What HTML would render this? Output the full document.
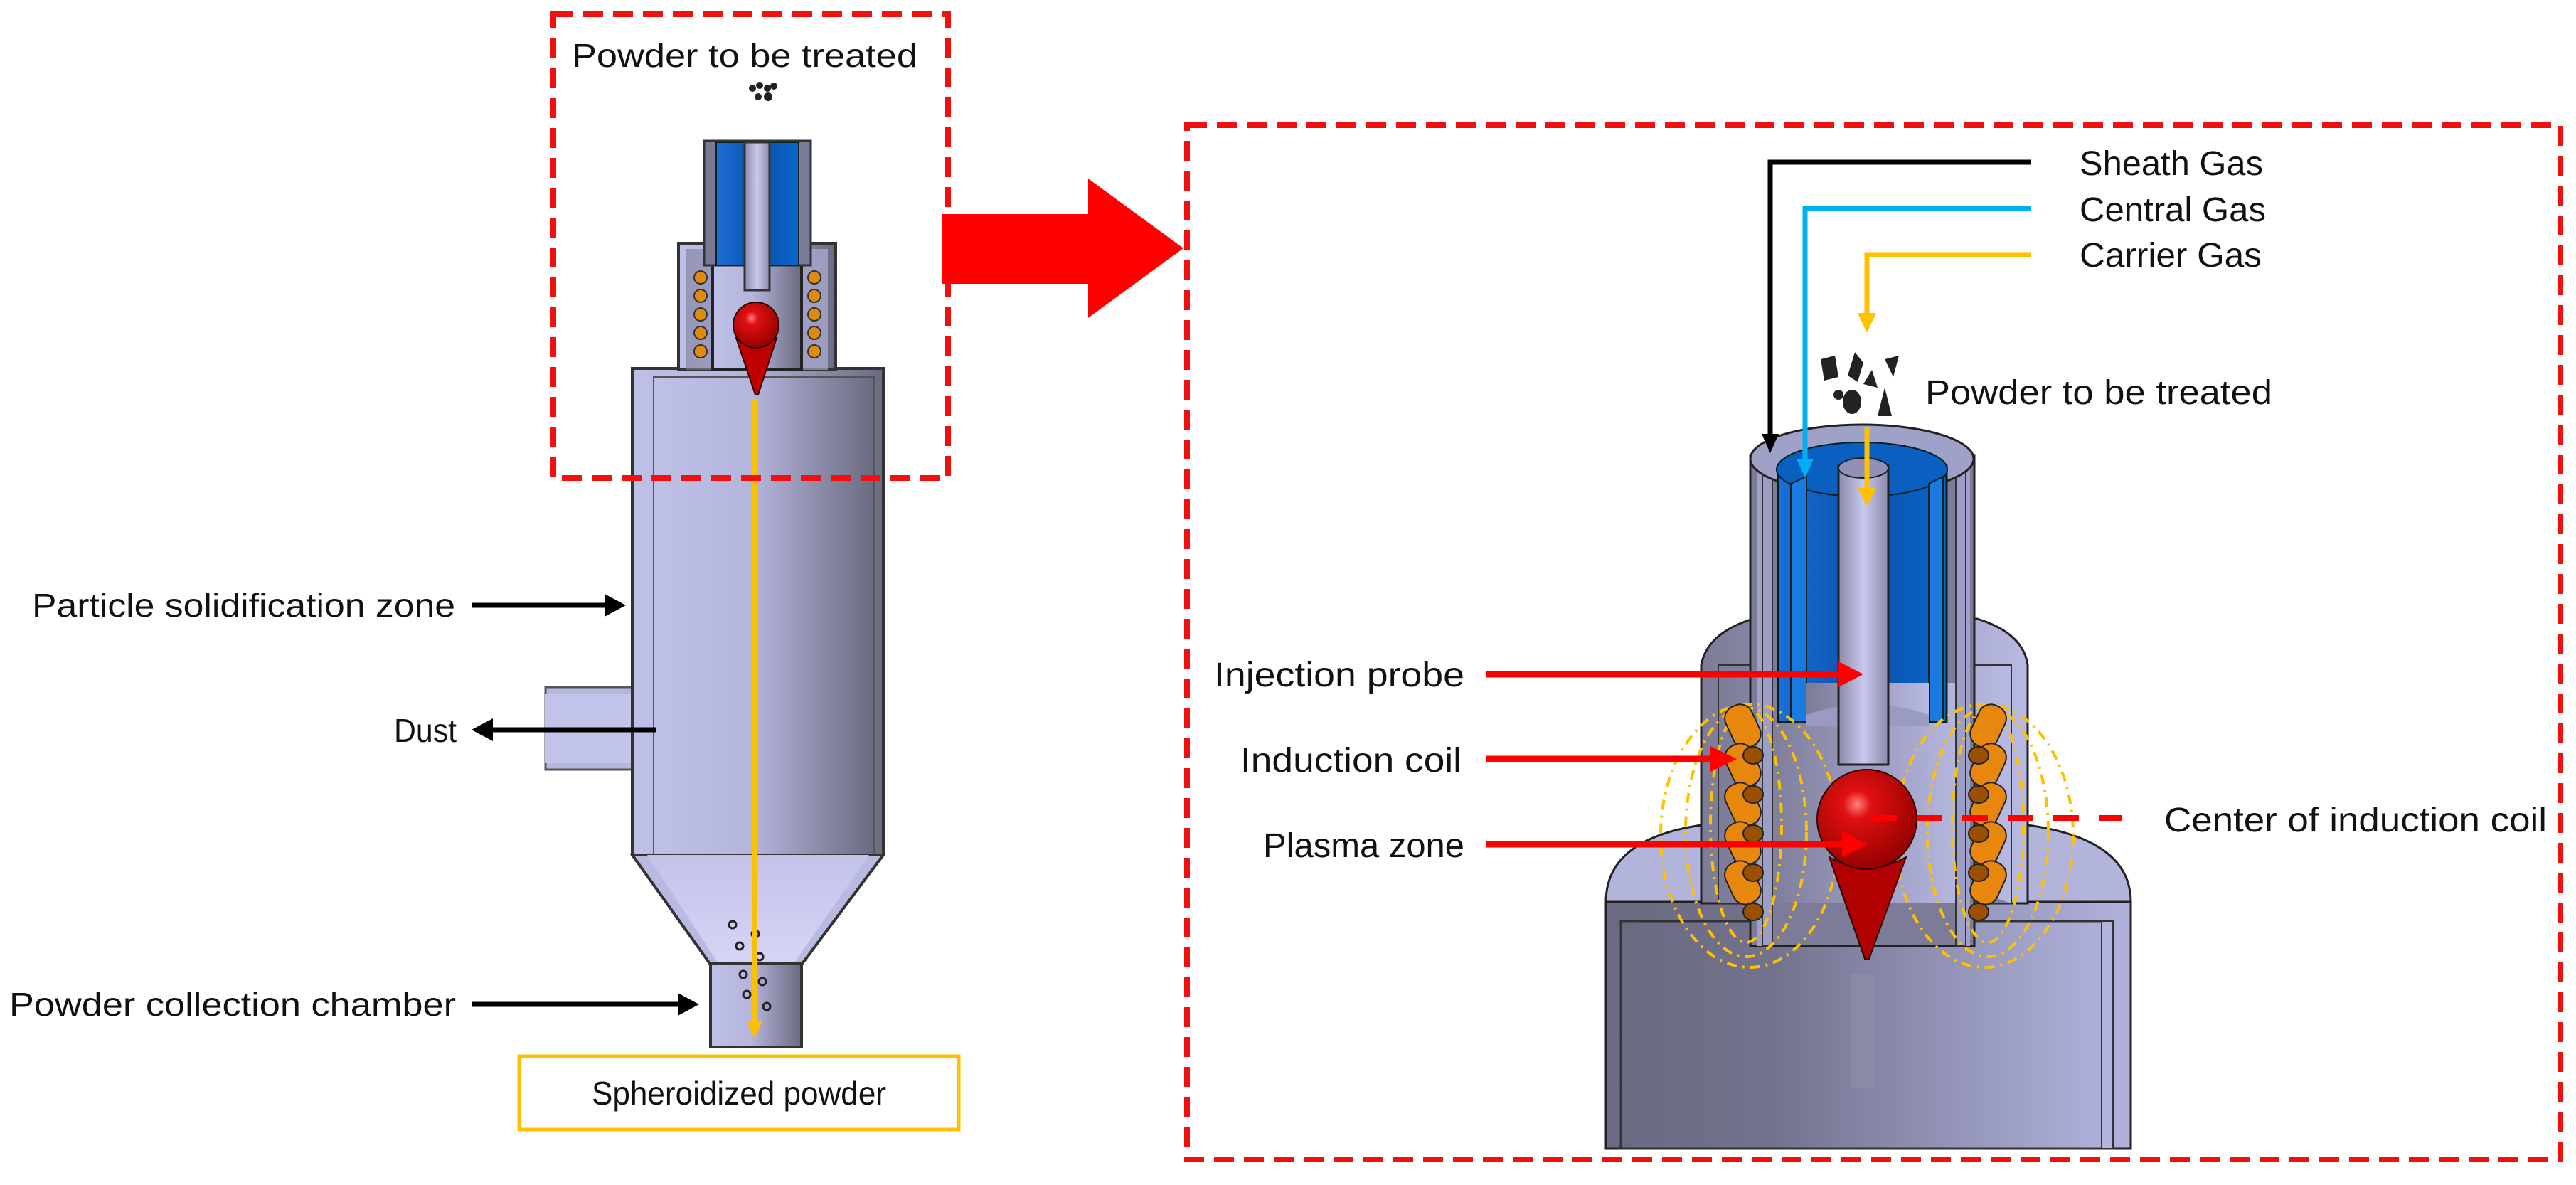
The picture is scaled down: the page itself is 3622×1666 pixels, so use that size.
<!DOCTYPE html>
<html><head><meta charset="utf-8"><style>
html,body{margin:0;padding:0;background:#fff;}
svg{display:block;}
text{font-family:"Liberation Sans",sans-serif;fill:#111;}
</style></head><body>
<svg width="3622" height="1666" viewBox="0 0 3622 1666" xmlns="http://www.w3.org/2000/svg">
<defs>
<linearGradient id="cyl" x1="0" x2="1" y1="0" y2="0">
<stop offset="0" stop-color="#bfc0e8"/><stop offset="0.45" stop-color="#b4b5dc"/><stop offset="1" stop-color="#6a6a80"/></linearGradient>
<linearGradient id="cone" x1="0" x2="0" y1="0" y2="1">
<stop offset="0" stop-color="#c2c3e8"/><stop offset="1" stop-color="#d4d5f6"/></linearGradient>
<linearGradient id="rbase" x1="0" x2="1" y1="0" y2="0">
<stop offset="0" stop-color="#6a6a82"/><stop offset="0.3" stop-color="#72728e"/><stop offset="1" stop-color="#b0b2dc"/></linearGradient>
<linearGradient id="blue" x1="0" x2="1"><stop offset="0" stop-color="#1a6fd8"/><stop offset="0.5" stop-color="#0b4fa8"/><stop offset="1" stop-color="#0a66cc"/></linearGradient>
<radialGradient id="ball" cx="0.4" cy="0.35" r="0.7"><stop offset="0" stop-color="#ff8080"/><stop offset="0.2" stop-color="#e01010"/><stop offset="1" stop-color="#900000"/></radialGradient>
<linearGradient id="rod" x1="0" x2="1"><stop offset="0" stop-color="#8a8aa8"/><stop offset="0.5" stop-color="#c8c9ee"/><stop offset="1" stop-color="#8a8aa8"/></linearGradient>
<linearGradient id="mid" x1="0" x2="1"><stop offset="0" stop-color="#7c7c98"/><stop offset="1" stop-color="#b8b9e2"/></linearGradient>
</defs>

<!-- ===== LEFT APPARATUS ===== -->
<rect x="767" y="966" width="135" height="116" fill="#b6b7de" stroke="#555" stroke-width="3"/>
<rect x="767" y="975" width="130" height="98" fill="#c3c4ea"/>
<rect x="889" y="518" width="353" height="684" fill="url(#cyl)" stroke="#333" stroke-width="4"/>
<rect x="919" y="530" width="310" height="672" fill="url(#cyl)" stroke="#555" stroke-width="2"/>
<polygon points="889,1202 1242,1202 1127,1356 999,1356" fill="#b9bae2" stroke="#333" stroke-width="4"/>
<polygon points="910,1202 1222,1202 1115,1356 1011,1356" fill="url(#cone)"/>
<rect x="999" y="1355" width="128" height="117" fill="url(#cyl)" stroke="#333" stroke-width="4"/>
<g fill="none" stroke="#222" stroke-width="3">
<circle cx="1030" cy="1300" r="5"/><circle cx="1062" cy="1313" r="5"/><circle cx="1040" cy="1330" r="5"/><circle cx="1068" cy="1345" r="5"/>
<circle cx="1045" cy="1370" r="5"/><circle cx="1072" cy="1380" r="5"/><circle cx="1050" cy="1398" r="5"/><circle cx="1078" cy="1415" r="5"/></g>
<rect x="954" y="342" width="221" height="178" fill="url(#cyl)" stroke="#333" stroke-width="4"/>
<rect x="964" y="350" width="200" height="170" fill="url(#mid)" opacity="0.6"/>
<rect x="1002" y="372" width="125" height="148" fill="url(#cyl)" stroke="#222" stroke-width="4"/>
<rect x="990" y="198" width="150" height="175" fill="#7a7a96" stroke="#333" stroke-width="3"/>
<rect x="1007" y="200" width="116" height="173" fill="url(#blue)" stroke="#022" stroke-width="2"/>
<rect x="1047" y="200" width="35" height="208" fill="url(#rod)" stroke="#333" stroke-width="3"/>
<g fill="#e08a10" stroke="#333" stroke-width="2">
<circle cx="985" cy="390" r="9"/><circle cx="985" cy="416" r="9"/><circle cx="985" cy="442" r="9"/><circle cx="985" cy="468" r="9"/><circle cx="985" cy="494" r="9"/>
<circle cx="1145" cy="390" r="9"/><circle cx="1145" cy="416" r="9"/><circle cx="1145" cy="442" r="9"/><circle cx="1145" cy="468" r="9"/><circle cx="1145" cy="494" r="9"/></g>
<path d="M1035,475 L1092,475 L1066,555 L1062,555 Z" fill="#c00000" stroke="#300" stroke-width="2"/>
<circle cx="1063" cy="457" r="32" fill="url(#ball)" stroke="#300" stroke-width="2"/>
<line x1="1061" y1="562" x2="1061" y2="1440" stroke="#ffc000" stroke-width="6"/>
<polygon points="1050,1435 1072,1435 1061,1460" fill="#ffc000"/>
<g fill="#222"><circle cx="1058" cy="124" r="5"/><circle cx="1068" cy="120" r="5"/><circle cx="1079" cy="124" r="5"/><circle cx="1088" cy="121" r="5"/><circle cx="1066" cy="136" r="5"/><circle cx="1080" cy="136" r="6"/></g>
<text x="804" y="94" font-size="46" textLength="486" lengthAdjust="spacingAndGlyphs">Powder to be treated</text>
<rect x="778" y="20" width="555" height="652" fill="none" stroke="#f01010" stroke-width="8" stroke-dasharray="28,14"/>

<text x="45" y="867" font-size="46" textLength="595" lengthAdjust="spacingAndGlyphs">Particle solidification zone</text>
<line x1="663" y1="851" x2="855" y2="851" stroke="#000" stroke-width="7"/>
<polygon points="850,835 880,851 850,867" fill="#000"/>
<text x="554" y="1043" font-size="46" textLength="88" lengthAdjust="spacingAndGlyphs">Dust</text>
<line x1="690" y1="1026" x2="922" y2="1026" stroke="#000" stroke-width="7"/>
<polygon points="693,1010 663,1026 693,1042" fill="#000"/>
<text x="13" y="1428" font-size="46" textLength="628" lengthAdjust="spacingAndGlyphs">Powder collection chamber</text>
<line x1="663" y1="1412" x2="958" y2="1412" stroke="#000" stroke-width="7"/>
<polygon points="953,1396 983,1412 953,1428" fill="#000"/>
<rect x="730" y="1485" width="618" height="103" fill="#fff" stroke="#ffc000" stroke-width="5"/>
<text x="1039" y="1553" font-size="46" text-anchor="middle" textLength="414" lengthAdjust="spacingAndGlyphs">Spheroidized powder</text>

<polygon points="1325,301 1530,301 1530,251 1664,349 1530,447 1530,399 1325,399" fill="#ff0000"/>

<!-- ===== RIGHT PANEL ===== -->
<rect x="1669" y="176" width="1931" height="1454" fill="none" stroke="#f01010" stroke-width="8" stroke-dasharray="28,14"/>

<path d="M2258,1615 L2258,1268 Q2258,1180 2392,1160 L2392,1615 Z" fill="#b3b4dc" stroke="#222" stroke-width="3"/>
<path d="M2996,1615 L2996,1268 Q2996,1180 2851,1160 L2851,1615 Z" fill="#b3b4dc" stroke="#222" stroke-width="3"/>
<rect x="2258" y="1268" width="738" height="347" fill="url(#rbase)" stroke="#222" stroke-width="3"/>
<rect x="2279" y="1295" width="692" height="320" fill="url(#rbase)" stroke="#333" stroke-width="3"/>
<rect x="2955" y="1295" width="16" height="320" fill="#b4b5dc" stroke="#333" stroke-width="2"/>
<rect x="2603" y="1370" width="32" height="160" fill="#9090aa" opacity="0.6"/>
<path d="M2392,1270 L2392,935 Q2400,890 2465,870 L2780,870 Q2845,890 2851,935 L2851,1270 Z" fill="url(#mid)" stroke="#222" stroke-width="3"/>
<rect x="2416" y="935" width="412" height="335" fill="url(#mid)" stroke="#333" stroke-width="2"/>
<path d="M2416,1270 Q2625,1200 2828,1270 Z" fill="#7e7e9a"/>
<rect x="2480" y="960" width="285" height="305" fill="url(#mid)" stroke="#333" stroke-width="2"/>
<path d="M2480,1265 Q2625,1215 2765,1265" fill="none" stroke="#222" stroke-width="3"/>
<rect x="2461" y="640" width="315" height="690" fill="#7c7c98" stroke="#222" stroke-width="3"/>
<rect x="2470" y="650" width="22" height="680" fill="#a0a1c8"/>
<rect x="2752" y="650" width="18" height="680" fill="#a0a1c8"/>
<rect x="2480" y="960" width="285" height="310" fill="url(#mid)"/>
<rect x="2478" y="650" width="14" height="680" fill="#9d9ec6" stroke="#333" stroke-width="2"/>
<rect x="2750" y="650" width="14" height="680" fill="#9d9ec6" stroke="#333" stroke-width="2"/>
<ellipse cx="2618" cy="645" rx="157" ry="48" fill="#a0a1c8" stroke="#222" stroke-width="3"/>
<rect x="2500" y="655" width="237" height="360" fill="url(#blue)" stroke="#022" stroke-width="3"/>
<ellipse cx="2618" cy="660" rx="120" ry="38" fill="#0b5fc0" stroke="#022" stroke-width="2"/>
<path d="M2518,1015 L2518,680 L2540,670 L2540,1015 Z" fill="#1a7ae0" stroke="#022" stroke-width="2"/>
<path d="M2712,1015 L2712,680 L2732,670 L2732,1015 Z" fill="#1a7ae0" stroke="#022" stroke-width="2"/>
<rect x="2540" y="960" width="172" height="60" fill="url(#mid)"/>
<path d="M2540,1005 Q2625,975 2712,1005 L2712,1020 L2540,1020 Z" fill="#9a9bc2"/>
<rect x="2585" y="655" width="70" height="420" fill="url(#rod)" stroke="#222" stroke-width="3"/>
<ellipse cx="2620" cy="658" rx="35" ry="14" fill="#9091b4" stroke="#222" stroke-width="2"/>
<!-- field lines -->
<g fill="none" stroke="#ffc000" stroke-width="4" stroke-dasharray="14,8,3,8">
<ellipse cx="2455" cy="1160" rx="50" ry="165"/><ellipse cx="2455" cy="1170" rx="85" ry="175"/><ellipse cx="2460" cy="1175" rx="125" ry="185"/>
<ellipse cx="2795" cy="1160" rx="50" ry="165"/><ellipse cx="2795" cy="1170" rx="85" ry="175"/><ellipse cx="2790" cy="1175" rx="125" ry="185"/>
</g>
<g stroke="#222" stroke-width="2">
<g fill="#e8870e">
<rect x="2430" y="990" width="40" height="62" rx="18" transform="rotate(-25 2450 1020)"/>
<rect x="2430" y="1045" width="40" height="62" rx="18" transform="rotate(-25 2450 1075)"/>
<rect x="2430" y="1100" width="40" height="62" rx="18" transform="rotate(-25 2450 1130)"/>
<rect x="2430" y="1155" width="40" height="62" rx="18" transform="rotate(-25 2450 1185)"/>
<rect x="2430" y="1210" width="40" height="62" rx="18" transform="rotate(-25 2450 1240)"/>
<rect x="2776" y="990" width="40" height="62" rx="18" transform="rotate(25 2796 1020)"/>
<rect x="2776" y="1045" width="40" height="62" rx="18" transform="rotate(25 2796 1075)"/>
<rect x="2776" y="1100" width="40" height="62" rx="18" transform="rotate(25 2796 1130)"/>
<rect x="2776" y="1155" width="40" height="62" rx="18" transform="rotate(25 2796 1185)"/>
<rect x="2776" y="1210" width="40" height="62" rx="18" transform="rotate(25 2796 1240)"/>
</g>
<g fill="#9a5000">
<ellipse cx="2465" cy="1062" rx="14" ry="12"/><ellipse cx="2465" cy="1117" rx="14" ry="12"/><ellipse cx="2465" cy="1172" rx="14" ry="12"/><ellipse cx="2465" cy="1227" rx="14" ry="12"/><ellipse cx="2465" cy="1282" rx="14" ry="12"/>
<ellipse cx="2782" cy="1062" rx="14" ry="12"/><ellipse cx="2782" cy="1117" rx="14" ry="12"/><ellipse cx="2782" cy="1172" rx="14" ry="12"/><ellipse cx="2782" cy="1227" rx="14" ry="12"/><ellipse cx="2782" cy="1282" rx="14" ry="12"/>
</g></g>
<path d="M2572,1205 Q2625,1235 2680,1205 L2628,1348 L2622,1348 Z" fill="#b00000" stroke="#300" stroke-width="2"/>
<circle cx="2625" cy="1152" r="70" fill="url(#ball)" stroke="#300" stroke-width="2"/>

<polyline points="2855,228 2489,228 2489,615" fill="none" stroke="#000" stroke-width="7"/>
<polygon points="2477,610 2501,610 2489,637" fill="#000"/>
<polyline points="2855,293 2538,293 2538,650" fill="none" stroke="#00b0f0" stroke-width="7"/>
<polygon points="2526,645 2550,645 2538,672" fill="#00b0f0"/>
<polyline points="2855,358 2625,358 2625,445" fill="none" stroke="#ffc000" stroke-width="7"/>
<polygon points="2612,440 2638,440 2625,468" fill="#ffc000"/>
<line x1="2625" y1="600" x2="2625" y2="690" stroke="#ffc000" stroke-width="7"/>
<polygon points="2612,686 2638,686 2625,712" fill="#ffc000"/>
<g fill="#222">
<polygon points="2560,505 2580,500 2585,530 2565,535"/>
<polygon points="2608,495 2620,510 2612,537 2598,528"/>
<polygon points="2650,505 2670,500 2662,530"/>
<ellipse cx="2604" cy="565" rx="13" ry="17"/>
<polygon points="2620,540 2632,520 2640,545"/>
<polygon points="2640,585 2650,545 2660,585"/>
<circle cx="2585" cy="555" r="7"/>
</g>
<text x="2924" y="246" font-size="48" textLength="258" lengthAdjust="spacingAndGlyphs">Sheath Gas</text>
<text x="2924" y="311" font-size="48" textLength="262" lengthAdjust="spacingAndGlyphs">Central Gas</text>
<text x="2924" y="375" font-size="48" textLength="256" lengthAdjust="spacingAndGlyphs">Carrier Gas</text>
<text x="2707" y="568" font-size="48" textLength="488" lengthAdjust="spacingAndGlyphs">Powder to be treated</text>

<text x="1707" y="965" font-size="48" textLength="352" lengthAdjust="spacingAndGlyphs">Injection probe</text>
<line x1="2090" y1="948" x2="2590" y2="948" stroke="#ff0000" stroke-width="9"/>
<polygon points="2585,930 2620,948 2585,966" fill="#ff0000"/>
<text x="1744" y="1085" font-size="48" textLength="311" lengthAdjust="spacingAndGlyphs">Induction coil</text>
<line x1="2090" y1="1067" x2="2410" y2="1067" stroke="#ff0000" stroke-width="9"/>
<polygon points="2405,1049 2442,1067 2405,1085" fill="#ff0000"/>
<text x="1776" y="1205" font-size="48" textLength="283" lengthAdjust="spacingAndGlyphs">Plasma zone</text>
<line x1="2090" y1="1187" x2="2595" y2="1187" stroke="#ff0000" stroke-width="9"/>
<polygon points="2590,1169 2626,1187 2590,1205" fill="#ff0000"/>
<line x1="2631" y1="1150" x2="2983" y2="1150" stroke="#ff0000" stroke-width="8" stroke-dasharray="36,28"/>
<text x="3043" y="1169" font-size="48" textLength="538" lengthAdjust="spacingAndGlyphs">Center of induction coil</text>
</svg>
</body></html>
